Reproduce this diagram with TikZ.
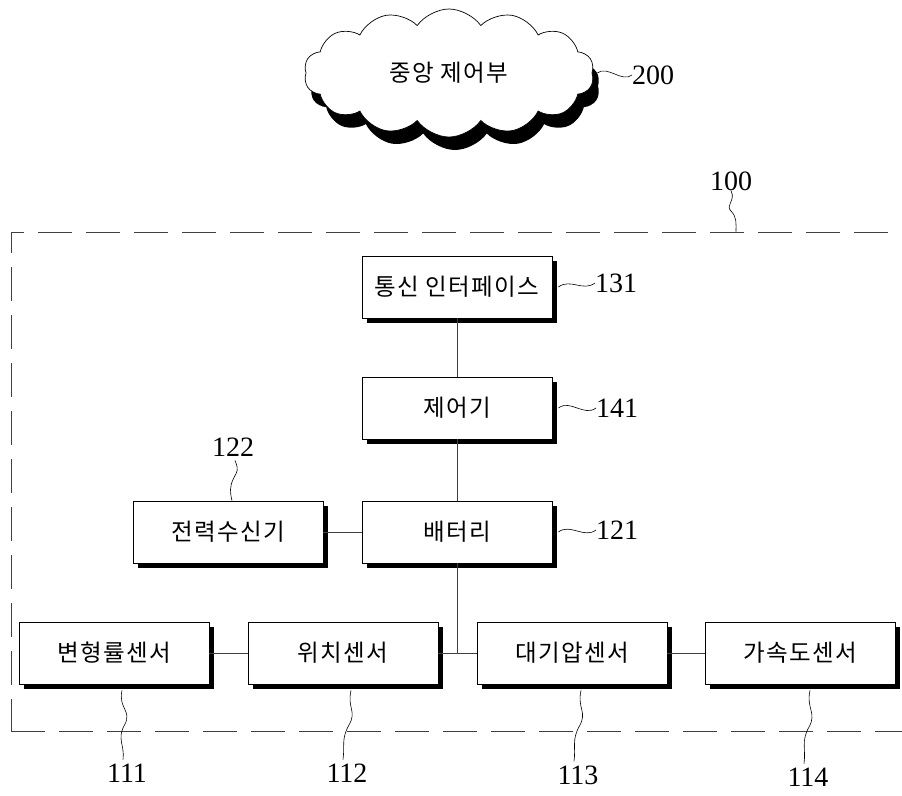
\documentclass[tikz,border=0pt]{standalone}
\usepackage{fontspec}
\newfontfamily\kr[LetterSpace=6]{Noto Sans CJK KR}
\newfontfamily\numf{Liberation Serif}
\usetikzlibrary{shapes.symbols,shadows,calc}
\begin{document}
\begin{tikzpicture}[x=1pt,y=-1pt,
  box/.style={draw,line width=0.8pt,fill=white,minimum width=190pt,minimum height=62pt,inner sep=0pt,
    font=\kr\fontsize{23.5}{26}\selectfont,
    drop shadow={shadow xshift=5pt,shadow yshift=-5pt,fill=black,opacity=1}},
  num/.style={font=\numf\fontsize{28}{30}\selectfont,inner sep=0pt},
  lead/.style={line width=0.6pt},
  link/.style={line width=0.8pt,draw=black!75}]
\useasboundingbox (0,0) rectangle (902,795);
\clip (0,0) rectangle (902,795);

% cloud
\node[cloud,cloud puffs=14,cloud puff arc=110,aspect=2.3,draw,fill=white,line width=0.7pt,
  minimum width=290pt,minimum height=128pt,inner sep=0pt,
  drop shadow={shadow xshift=6pt,shadow yshift=-13pt,fill=black,opacity=1},
  font=\kr\fontsize{23.5}{26}\selectfont] (cloud) at (449,73) {중앙 제어부};
\node[num,anchor=west] (n200) at (632,75) {200};
\draw[lead] ([xshift=5pt]cloud.east) .. controls +(10,-8) and +(-10,8) .. (n200.west);

% frame
\node[draw=black!75,line width=1pt,dash pattern=on 34pt off 14pt,minimum width=909pt,minimum height=499pt,inner sep=0pt] (frame) at (465.5,481.5) {};
\node[num] (n100) at (731,181) {100};
\draw[lead] (n100.south) .. controls +(5,10) and +(-6,-6) .. ($(n100.south)!0.5!(frame.north -| n100.south)$)
  .. controls +(6,6) and +(0,-8) .. ([xshift=5pt]frame.north -| n100.south);

% boxes
\node[box] (comm) at (457,287) {통신 인터페이스};
\node[box] (ctrl) at (457,408) {제어기};
\node[box] (batt) at (457,532) {배터리};
\node[box] (prx) at (228,532) {전력수신기};
\node[box] (s1) at (114,653) {변형률센서};
\node[box] (s2) at (343,653) {위치센서};
\node[box] (s3) at (572,653) {대기압센서};
\node[box] (s4) at (800,653) {가속도센서};

% links
\draw[link] (comm.south) -- (ctrl.north);
\draw[link] (ctrl.south) -- (batt.north);
\draw[link] (prx.east) -- (batt.west);
\draw[link] (batt.south) -- (batt.south |- s2.east);
\draw[link] (s1.east) -- (s2.west);
\draw[link] (s2.east) -- (s3.west);
\draw[link] (s3.east) -- (s4.west);

% side labels
\node[num,anchor=west] (n131) at (595,283) {131};
\node[num,anchor=west] (n141) at (596,408) {141};
\node[num,anchor=west] (n121) at (596,530) {121};
\draw[lead] ([xshift=6pt]comm.east) .. controls +(12,-9) and +(-12,9) .. (n131.west);
\draw[lead] ([xshift=6pt]ctrl.east) .. controls +(12,-9) and +(-12,9) .. (n141.west);
\draw[lead] ([xshift=6pt]batt.east) .. controls +(12,-9) and +(-12,9) .. (n121.west);

% 122
\node[num] (n122) at (233,447) {122};
\draw[lead] ([xshift=2pt,yshift=-4pt]n122.south) .. controls +(4,10) and +(4,-8) .. ($([xshift=2pt]n122.south)!0.5!([xshift=4pt]prx.north)$)
  .. controls +(-4,8) and +(-2,-8) .. ([xshift=4pt]prx.north);

% bottom labels
\node[num] (n111) at (127,773) {111};
\node[num] (n112) at (347,773) {112};
\node[num] (n113) at (578,775) {113};
\node[num] (n114) at (808,777) {114};
\foreach \s/\n/\dx in {s1/n111/8,s2/n112/8,s3/n113/9,s4/n114/10}{
  \draw[lead] ([xshift=\dx pt,yshift=-6pt]\s.south) .. controls +(-4,18) and +(8,-14) .. ($([xshift=\dx pt,yshift=-6pt]\s.south)!0.5!([yshift=4pt]\n.north)$)
    .. controls +(-8,14) and +(2,-14) .. ([xshift=-4pt,yshift=4pt]\n.north);
}
\end{tikzpicture}
\end{document}
